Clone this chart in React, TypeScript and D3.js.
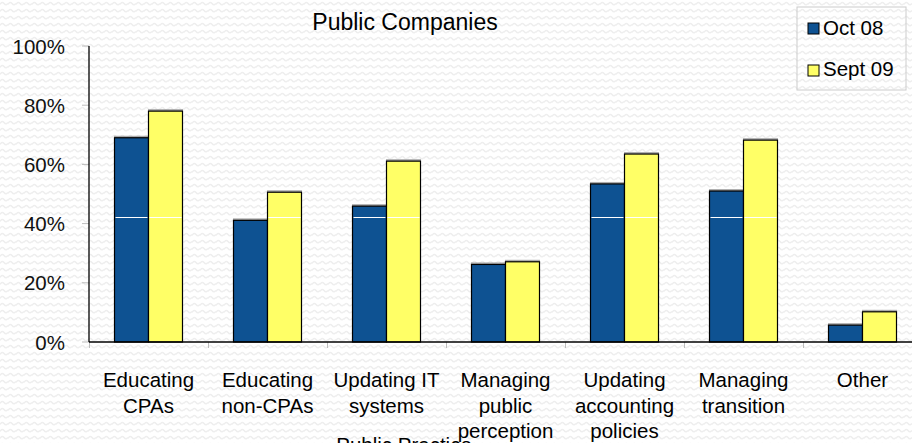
import React from "react";
import * as d3 from "d3";

const categories: string[][] = [
  ["Educating", "CPAs"],
  ["Educating", "non-CPAs"],
  ["Updating IT", "systems"],
  ["Managing", "public", "perception"],
  ["Updating", "accounting", "policies"],
  ["Managing", "transition"],
  ["Other"],
];
const seriesNames = ["Oct 08", "Sept 09"];
const oct08 = [0.69, 0.411, 0.459, 0.262, 0.534, 0.51, 0.057];
const sept09 = [0.78, 0.506, 0.611, 0.271, 0.635, 0.682, 0.102];
const yTicks = [0, 0.2, 0.4, 0.6, 0.8, 1.0];
const markerLevel = 0.4223;
const title = "Public Companies";
const subtitle = "Public Practice";

const W = 912;
const H = 443;
const colors = ["#0E5292", "#FFFF66"];
const FONT = "'Liberation Sans', Arial, sans-serif";

export default function App() {
  const left = 89;
  const step = 119;
  const x = d3
    .scaleBand<number>()
    .domain(categories.map((_, i) => i))
    .range([left, left + step * categories.length])
    .paddingInner(0)
    .paddingOuter(0);
  const groupW = 68;
  const x1 = d3.scaleBand<number>().domain([0, 1]).range([0, groupW]);
  const y = d3.scaleLinear().domain([0, 1]).range([342, 46]);
  const series = [oct08, sept09];
  const y0 = y(0);

  return (
    <svg
      width={W}
      height={H}
      style={{ position: "absolute", left: 0, top: 0, background: "#fff" }}
      fontFamily={FONT}
    >
      <defs>
        <pattern id="wave" width="8" height="7" patternUnits="userSpaceOnUse">
          <path d="M0,4.5 Q2,1 4,3.5 T8,3.5" fill="none" stroke="#eeeeee" strokeWidth={1.4} />
        </pattern>
      </defs>
      <rect x={0} y={0} width={W} height={H} fill="#fff" />
      <rect x={0} y={0} width={W} height={H} fill="url(#wave)" />

      <text x={405} y={30} textAnchor="middle" fontSize={23} fill="#000">
        {title}
      </text>

      {/* y ticks */}
      {yTicks.map((t) => (
        <g key={t}>
          <line x1={82} x2={left} y1={y(t)} y2={y(t)} stroke="#bbb" strokeWidth={1} />
          <text x={65} y={y(t) + 7.5} textAnchor="end" fontSize={20.5} fill="#111">
            {d3.format(".0%")(t)}
          </text>
        </g>
      ))}

      {/* category ticks */}
      {categories.map((_, i) => (
        <line
          key={"ct" + i}
          x1={(x(i) as number) + 0.5}
          x2={(x(i) as number) + 0.5}
          y1={y0}
          y2={y0 + 6}
          stroke="#bbb"
        />
      ))}

      {/* bars */}
      {categories.map((_, i) => {
        const gx = (x(i) as number) + (step - groupW) / 2;
        return (
          <g key={"g" + i}>
            {series.map((s, j) => {
              const bx = gx + (x1(j) as number);
              const bw = x1.bandwidth();
              const by = y(s[i]);
              return (
                <g key={j}>
                  <rect x={bx - 0.5} y={by - 2} width={bw + 1} height={y0 - by + 2} fill="#8a8a8a" opacity={0.7} />
                  <rect
                    x={bx}
                    y={by}
                    width={bw}
                    height={y0 - by}
                    fill={colors[j]}
                    stroke="#000"
                    strokeWidth={1.2}
                  />
                  {s[i] > markerLevel && (
                    <line
                      x1={bx + 1}
                      x2={bx + bw - 1}
                      y1={Math.round(y(markerLevel)) + 0.5}
                      y2={Math.round(y(markerLevel)) + 0.5}
                      stroke="#fff"
                      strokeWidth={1}
                    />
                  )}
                </g>
              );
            })}
          </g>
        );
      })}

      {/* axes */}
      <line x1={left} x2={left} y1={y(1)} y2={y0} stroke="#000" strokeWidth={1.3} />
      <line x1={left} x2={W} y1={y0} y2={y0} stroke="#000" strokeWidth={1.3} />

      <text x={404} y={452} textAnchor="middle" fontSize={20.5} fill="#000">
        {subtitle}
      </text>

      {/* category labels */}
      {categories.map((lines, i) => (
        <text
          key={"cl" + i}
          x={(x(i) as number) + step / 2}
          textAnchor="middle"
          fontSize={20.5}
          fill="#000"
        >
          {lines.map((ln, k) => (
            <tspan key={k} x={(x(i) as number) + step / 2} y={387 + k * 25.7}>
              {ln}
            </tspan>
          ))}
        </text>
      ))}

      {/* legend */}
      <rect x={797} y={7} width={109} height={83} fill="none" stroke="#cccccc" strokeWidth={1} />
      {seriesNames.map((n, j) => (
        <g key={n}>
          <rect x={808} y={23 + j * 42} width={11} height={11} fill={colors[j]} stroke="#000" strokeWidth={1} />
          <text x={823} y={35 + j * 41} fontSize={20.5} fill="#000">
            {n}
          </text>
        </g>
      ))}
    </svg>
  );
}
